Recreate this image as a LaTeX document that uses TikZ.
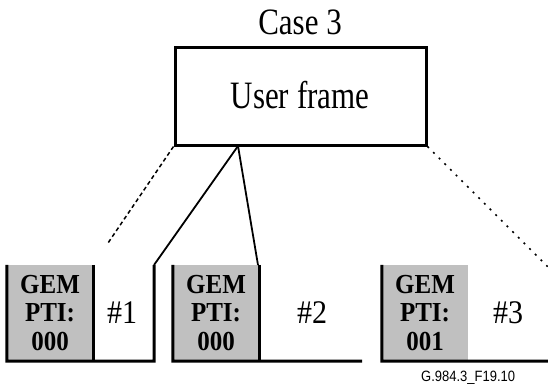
\documentclass[tikz,border=0pt]{standalone}
\usepackage{fontspec}
\usepackage{graphicx}
\setmainfont{Liberation Serif}
\newfontfamily\labelfont{Liberation Sans}
\definecolor{gembg}{RGB}{192,192,192}
\newcommand{\tallish}[2]{\scalebox{1}[#1]{#2}}
\begin{document}
\begin{tikzpicture}[x=1pt,y=-1pt,
  boxline/.style={line width=3pt},
  conn/.style={line width=1.8pt},
  fadeconn/.style={line width=1.5pt, dash pattern=on 4pt off 3pt},
  gembox/.style={fill=gembg, draw=none, minimum width=86pt, minimum height=96pt, inner sep=0pt,
    align=center, font=\fontsize{25}{28.5}\selectfont\bfseries},
  numtext/.style={font=\fontsize{30}{30}\selectfont, inner sep=0pt},
  title/.style={font=\fontsize{31}{31}\selectfont, inner sep=0pt}
]
\useasboundingbox (0,0) rectangle (548,391);
\fill[white] (0,0) rectangle (548,391);

% user frame
\node[draw, boxline, minimum width=251pt, minimum height=98pt, inner sep=0pt] (uf) at (300.5,96) {};
\node[title] (ufl) at (300,95) {\tallish{1.25}{User frame}};
\node[title] (case) at (300,22) {\tallish{1.2}{Case 3}};

% frames
\node[gembox] (g1) at (50,313) {\tallish{1.1}{GEM}\\\tallish{1.1}{PTI:}\\\tallish{1.1}{000}};
\node[gembox] (g2) at (216,313) {\tallish{1.1}{GEM}\\\tallish{1.1}{PTI:}\\\tallish{1.1}{000}};
\node[gembox] (g3) at (425,313) {\tallish{1.1}{GEM}\\\tallish{1.1}{PTI:}\\\tallish{1.1}{001}};

\node[numtext] (n1) at (122,313) {\tallish{1.1}{\#1}};
\node[numtext] (n2) at (312,313) {\tallish{1.1}{\#2}};
\node[numtext] (n3) at (508,313) {\tallish{1.1}{\#3}};

\coordinate (f1tr) at (154,265);
\coordinate (f1br) at (154,361);
\coordinate (f2end) at (362,361);
\coordinate (f3end) at (548,361);
\coordinate (split) at (238,146);
\coordinate (f2top) at (258,265);
\coordinate (leftfade) at (108,243);
\coordinate (rightfade) at (548,267);

% frame 1 outline
\draw[boxline] (g1.north west) -- (g1.south west) -- (f1br) -- (f1tr);
\draw[boxline] (g1.north east) -- (g1.south east);
% frame 2 outline
\draw[boxline] (g2.north west) -- (g2.south west) -- (f2end);
% frame 3 outline
\draw[boxline] (g3.north west) -- (g3.south west) -- (f3end);

% connectors
\draw[conn] (split) -- (f1tr);
\draw[conn] (split) -- (f2top);
\draw[boxline] (g2.north east) -- (g2.south east);
\draw[fadeconn] (uf.south west) -- (leftfade);
\draw[fadeconn, dash pattern=on 2pt off 6pt] (uf.south east) -- (rightfade);

\node[anchor=west, inner sep=0pt, font=\labelfont\fontsize{13}{13}\selectfont] (fig) at (421,378) {\tallish{1.15}{G.984.3\_F19.10}};
\end{tikzpicture}
\end{document}
